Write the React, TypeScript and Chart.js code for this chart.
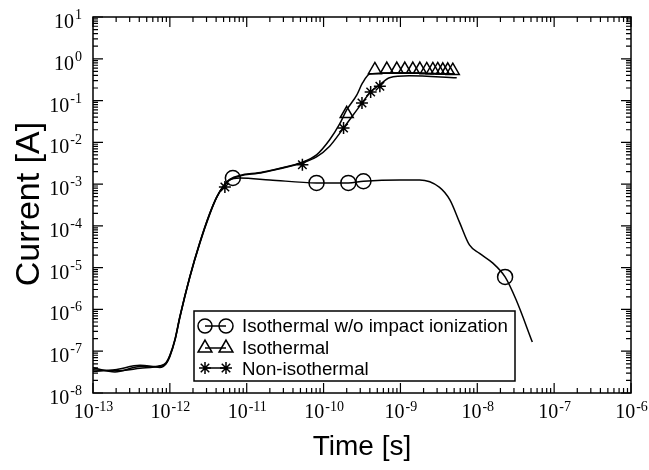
import React, { useEffect, useRef } from "react";
import { Chart, registerables } from "chart.js";

Chart.register(...registerables);

// ---- Data ----
const woT = [1e-13, 1.93e-13, 4.1e-13, 7.4e-13, 8.9e-13, 1.0e-12, 1.17e-12, 1.35e-12, 1.82e-12, 2.45e-12, 3.31e-12, 4.07e-12, 4.9e-12, 6.0e-12, 8.1e-12, 2.0e-11, 8.1e-11, 2.1e-10, 3.3e-10, 9.8e-10, 1.78e-9, 3.2e-9, 4.4e-9, 5.9e-9, 7.9e-9, 1.07e-8, 1.58e-8, 2.3e-8, 3.2e-8, 5.2e-8];
const woI = [4.0e-8, 3.2e-8, 4.3e-8, 4.3e-8, 5.0e-8, 7.4e-8, 1.9e-7, 6.6e-7, 6.0e-6, 3.9e-5, 2.0e-4, 4.9e-4, 8.5e-4, 1.26e-3, 1.4e-3, 1.26e-3, 1.07e-3, 1.07e-3, 1.17e-3, 1.26e-3, 1.26e-3, 8.5e-4, 4.2e-4, 1.2e-4, 3.5e-5, 2.2e-5, 1.3e-5, 6.0e-6, 1.7e-6, 1.66e-7];

const isoT = [1e-13, 1.93e-13, 4.1e-13, 7.4e-13, 8.9e-13, 1.0e-12, 1.17e-12, 1.35e-12, 1.82e-12, 2.45e-12, 3.31e-12, 4.07e-12, 4.9e-12, 6.0e-12, 1.62e-11, 4.9e-11, 8.1e-11, 1.2e-10, 1.62e-10, 2.0e-10, 2.7e-10, 3.2e-10, 4.0e-10, 9.8e-10, 5.1e-9];
const isoI = [3.6e-8, 3.4e-8, 3.9e-8, 4.5e-8, 5.3e-8, 8.0e-8, 2.0e-7, 6.8e-7, 6.2e-6, 4.0e-5, 2.0e-4, 4.9e-4, 8.7e-4, 1.3e-3, 1.95e-3, 3.2e-3, 5.0e-3, 1.15e-2, 2.75e-2, 6.0e-2, 0.135, 0.26, 0.43, 0.46, 0.43];

const nonT = [1e-13, 1.93e-13, 4.1e-13, 7.4e-13, 8.9e-13, 1.0e-12, 1.17e-12, 1.35e-12, 1.82e-12, 2.45e-12, 3.31e-12, 4.07e-12, 4.9e-12, 6.0e-12, 1.62e-11, 4.9e-11, 8.1e-11, 1.2e-10, 1.82e-10, 3.16e-10, 4.1e-10, 5.4e-10, 7.2e-10, 1.3e-9, 5.4e-9];
const nonI = [3.3e-8, 3.6e-8, 4.6e-8, 4.1e-8, 5.0e-8, 7.8e-8, 1.9e-7, 6.4e-7, 5.9e-6, 3.8e-5, 1.9e-4, 4.8e-4, 8.4e-4, 1.25e-3, 1.9e-3, 3.1e-3, 4.5e-3, 8.1e-3, 2.2e-2, 8.7e-2, 0.16, 0.24, 0.35, 0.39, 0.35];

const woMarkT = [6.6e-12, 8.1e-11, 2.1e-10, 3.3e-10, 2.3e-8];
const woMarkI = [1.4e-3, 1.07e-3, 1.07e-3, 1.17e-3, 6.0e-6];

const isoMarkT = [2.0e-10, 4.65e-10, 6.65e-10, 8.97e-10, 1.14e-9, 1.45e-9, 1.79e-9, 2.2e-9, 2.64e-9, 3.06e-9, 3.56e-9, 4.13e-9, 4.8e-9];
const isoMarkI = [4.8e-2, 0.54, 0.55, 0.55, 0.55, 0.55, 0.55, 0.54, 0.54, 0.54, 0.53, 0.53, 0.52];

const nonMarkT = [5.2e-12, 5.3e-11, 1.82e-10, 3.16e-10, 4.1e-10, 5.4e-10];
const nonMarkI = [8.5e-4, 2.9e-3, 2.2e-2, 8.7e-2, 0.16, 0.22];

const xExps = [-13, -12, -11, -10, -9, -8, -7, -6];
const yExps = [-8, -7, -6, -5, -4, -3, -2, -1, 0, 1];

const legendLabels = ["Isothermal w/o impact ionization", "Isothermal", "Non-isothermal"];
const xTitle = "Time [s]";
const yTitle = "Current [A]";

const pts = (t: number[], v: number[]) => t.map((x, i) => ({ x, y: v[i] }));

function drawMarker(ctx: CanvasRenderingContext2D, style: string, x: number, y: number, r: number) {
  ctx.beginPath();
  if (style === "circle") {
    ctx.arc(x, y, r, 0, Math.PI * 2);
  } else if (style === "triangle") {
    ctx.moveTo(x, y - r);
    ctx.lineTo(x + r * Math.sin((2 * Math.PI) / 3), y - r * Math.cos((2 * Math.PI) / 3));
    ctx.lineTo(x + r * Math.sin((4 * Math.PI) / 3), y - r * Math.cos((4 * Math.PI) / 3));
    ctx.closePath();
  } else {
    for (let k = 0; k < 4; k++) {
      const a = (k * Math.PI) / 4;
      ctx.moveTo(x + r * Math.cos(a), y + r * Math.sin(a));
      ctx.lineTo(x - r * Math.cos(a), y - r * Math.sin(a));
    }
  }
  ctx.stroke();
}

const overlay = {
  id: "overlay",
  afterDraw(chart: any) {
    const { ctx, chartArea } = chart;
    const { left, right, top, bottom } = chartArea;
    const xs = chart.scales.x;
    const ys = chart.scales.y;
    ctx.save();
    ctx.strokeStyle = "#000";
    ctx.fillStyle = "#000";
    ctx.lineWidth = 1.5;
    ctx.strokeRect(left, top, right - left, bottom - top);

    // ticks
    ctx.lineWidth = 1.2;
    ctx.beginPath();
    for (let d = xExps[0]; d <= xExps[xExps.length - 1]; d++) {
      for (let m = 1; m <= 9; m++) {
        if (d === xExps[xExps.length - 1] && m > 1) break;
        const px = xs.getPixelForValue(m * Math.pow(10, d));
        const len = m === 1 ? 10 : 5;
        ctx.moveTo(px, bottom);
        ctx.lineTo(px, bottom - len);
        ctx.moveTo(px, top);
        ctx.lineTo(px, top + len);
      }
    }
    for (let d = yExps[0]; d <= yExps[yExps.length - 1]; d++) {
      for (let m = 1; m <= 9; m++) {
        if (d === yExps[yExps.length - 1] && m > 1) break;
        const py = ys.getPixelForValue(m * Math.pow(10, d));
        const len = m === 1 ? 10 : 5;
        ctx.moveTo(left, py);
        ctx.lineTo(left + len, py);
        ctx.moveTo(right, py);
        ctx.lineTo(right - len, py);
      }
    }
    ctx.stroke();

    // tick labels
    const bigF = '20px "Liberation Serif", "Times New Roman", serif';
    const smallF = '14px "Liberation Serif", "Times New Roman", serif';
    ctx.textBaseline = "alphabetic";
    ctx.textAlign = "left";
    xExps.forEach((e) => {
      const px = xs.getPixelForValue(Math.pow(10, e));
      ctx.font = bigF;
      const w1 = ctx.measureText("10").width;
      ctx.font = smallF;
      const w2 = ctx.measureText(String(e)).width;
      const x0 = px - (w1 + w2) / 2;
      ctx.font = bigF;
      ctx.fillText("10", x0, bottom + 25);
      ctx.font = smallF;
      ctx.fillText(String(e), x0 + w1 + 1, bottom + 18);
    });
    yExps.forEach((e) => {
      const py = ys.getPixelForValue(Math.pow(10, e));
      ctx.font = smallF;
      const w2 = ctx.measureText(String(e)).width;
      ctx.font = bigF;
      const w1 = ctx.measureText("10").width;
      const xr = 82;
      ctx.font = bigF;
      ctx.fillText("10", xr - w2 - w1 - 1, py + 11);
      ctx.font = smallF;
      ctx.fillText(String(e), xr - w2, py + 2);
    });

    // axis titles
    ctx.font = '28px "Liberation Sans", Arial, sans-serif';
    ctx.textAlign = "center";
    ctx.textBaseline = "alphabetic";
    ctx.fillText(xTitle, (left + right) / 2, 455);
    ctx.save();
    ctx.font = '34px "Liberation Sans", Arial, sans-serif';
    ctx.translate(39, 204);
    ctx.rotate(-Math.PI / 2);
    ctx.fillText(yTitle, 0, 0);
    ctx.restore();

    // legend
    ctx.lineWidth = 1.5;
    ctx.fillStyle = "#fff";
    ctx.fillRect(194, 311, 321, 70);
    ctx.strokeRect(194, 311, 321, 70);
    ctx.fillStyle = "#000";
    const styles = ["circle", "triangle", "star"];
    const rad = [7, 8, 6];
    const my = [326, 348, 368];
    const by = [332, 353.5, 375];
    ctx.font = '18.7px "Liberation Sans", Arial, sans-serif';
    ctx.textAlign = "left";
    styles.forEach((s, i) => {
      ctx.beginPath();
      ctx.moveTo(205, my[i]);
      ctx.lineTo(226, my[i]);
      ctx.stroke();
      drawMarker(ctx, s, 205, my[i], rad[i]);
      drawMarker(ctx, s, 226, my[i], rad[i]);
      ctx.fillText(legendLabels[i], 242, by[i]);
    });
    ctx.restore();
  },
};

export default function App() {
  const ref = useRef<HTMLCanvasElement>(null);
  useEffect(() => {
    if (!ref.current) return;
    const lineDs = (data: any) => ({
      data,
      borderColor: "#000",
      borderWidth: 1.5,
      pointRadius: 0,
      fill: false,
      cubicInterpolationMode: "monotone",
    });
    const markDs = (data: any, style: string, r: number) => ({
      data,
      showLine: false,
      pointStyle: style,
      pointRadius: r,
      pointBorderWidth: 1.5,
      pointBorderColor: "#000",
      pointBackgroundColor: "rgba(0,0,0,0)",
      borderColor: "#000",
      backgroundColor: "rgba(0,0,0,0)",
    });
    const chart = new Chart(ref.current, {
      type: "line",
      data: {
        datasets: [
          lineDs(pts(woT, woI)),
          lineDs(pts(isoT, isoI)),
          lineDs(pts(nonT, nonI)),
          markDs(pts(woMarkT, woMarkI), "circle", 7.5),
          markDs(pts(isoMarkT, isoMarkI), "triangle", 7.5),
          markDs(pts(nonMarkT, nonMarkI), "star", 6),
        ] as any,
      },
      options: {
        responsive: false,
        animation: false,
        layout: { padding: { top: 17, right: 18, left: 0, bottom: 0 } },
        plugins: { legend: { display: false }, tooltip: { enabled: false } },
        scales: {
          x: {
            type: "logarithmic",
            min: 1e-13,
            max: 1e-6,
            ticks: { display: false },
            grid: { display: false },
            border: { display: false },
            afterFit: (s: any) => {
              s.height = 77;
            },
          },
          y: {
            type: "logarithmic",
            min: 1e-8,
            max: 10,
            ticks: { display: false },
            grid: { display: false },
            border: { display: false },
            afterFit: (s: any) => {
              s.width = 93;
            },
          },
        },
      } as any,
      plugins: [overlay],
    });
    return () => chart.destroy();
  }, []);
  return (
    <div style={{ position: "absolute", left: 0, top: 0, width: 649, height: 470, background: "#fff" }}>
      <canvas ref={ref} width={649} height={470} style={{ display: "block" }} />
    </div>
  );
}
